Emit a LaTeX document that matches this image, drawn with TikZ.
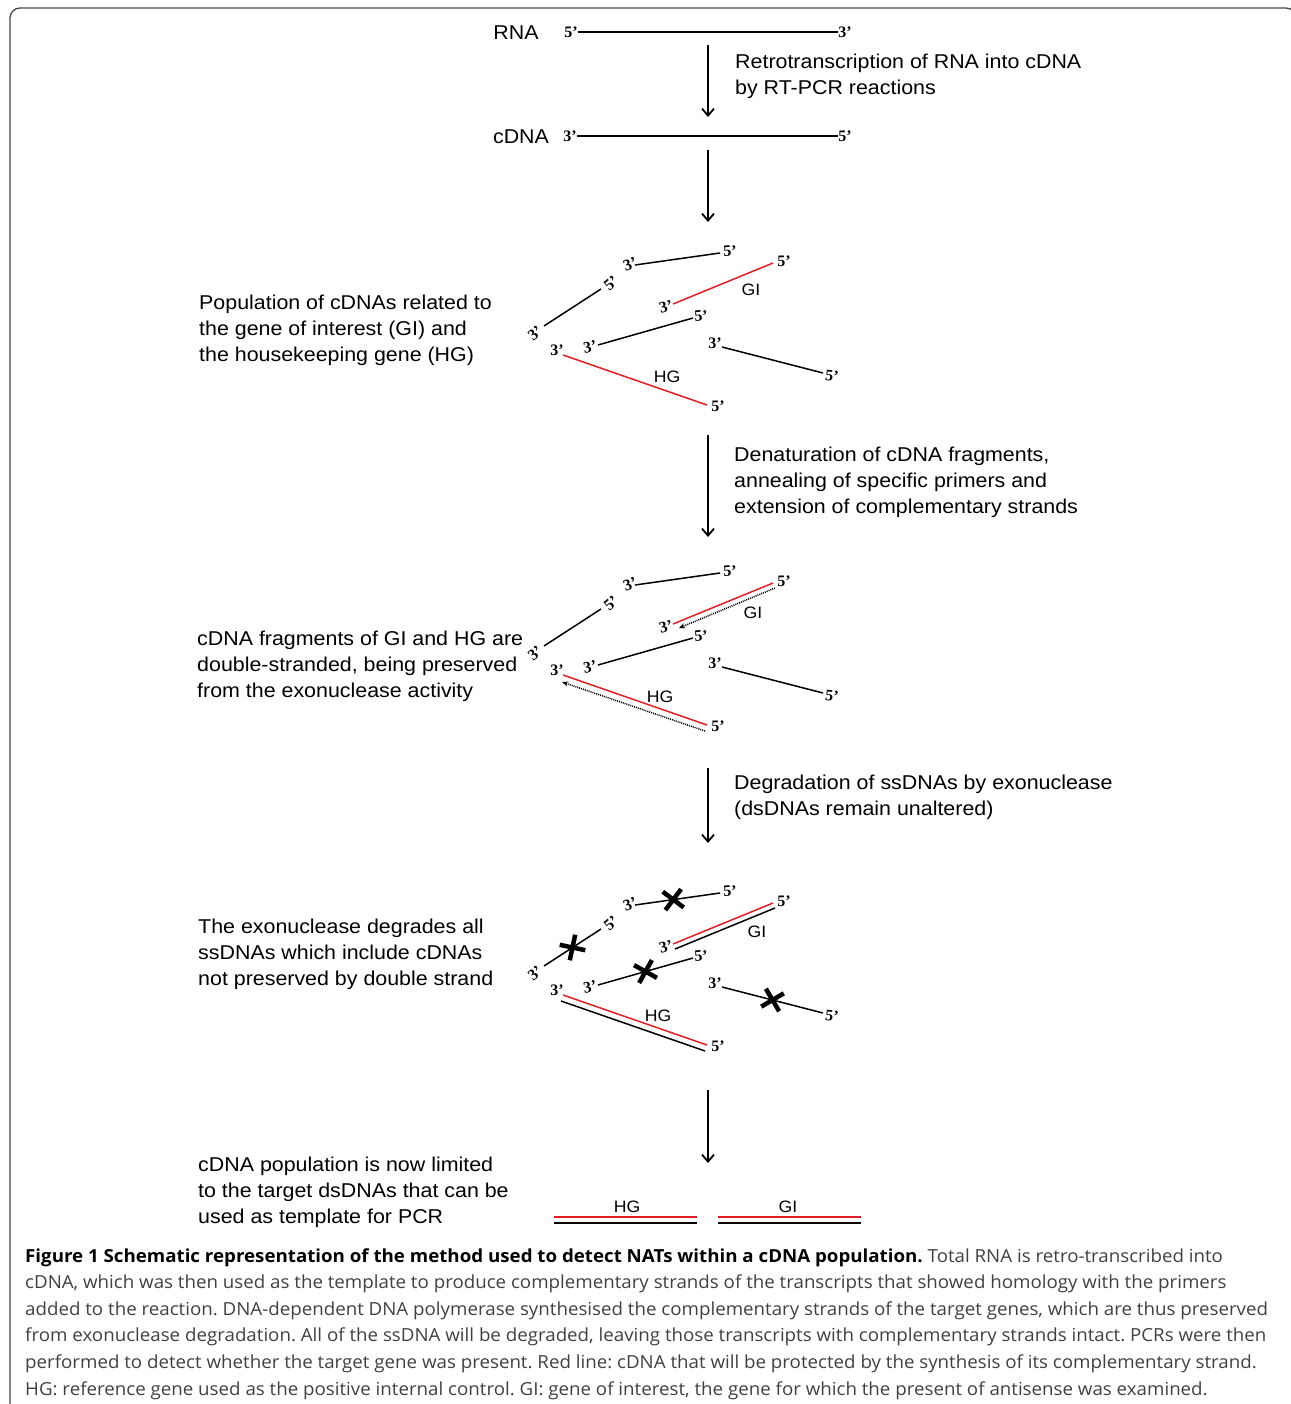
\documentclass[tikz,border=0pt]{standalone}
\usepackage{fontspec}
\setmainfont{Liberation Sans}
\newfontfamily\labfont{Liberation Sans}[FakeStretch=1.07]
\newfontfamily\primefont{Liberation Serif}
\newfontfamily\capfont{Open Sans}[FakeStretch=1.04]
\usetikzlibrary{arrows.meta,calc,shapes.misc}
\definecolor{dnared}{RGB}{226,30,36}
\definecolor{capgray}{RGB}{64,64,64}
\definecolor{framegray}{RGB}{70,70,70}
\frenchspacing

\newcommand\dnaset[2]{%
\begin{scope}[shift={(0,#1)}, name prefix=#2]
\coordinate (As) at (544,326); \coordinate (Ae) at (601,289);
\coordinate (Bs) at (635,265); \coordinate (Be) at (720,253);
\coordinate (Gs) at (673,304); \coordinate (Ge) at (773,263);
\coordinate (Cs) at (598,345); \coordinate (Ce) at (693,318);
\coordinate (Ds) at (722,347); \coordinate (De) at (823,373);
\coordinate (Hs) at (563,355); \coordinate (He) at (707,405);
\node[pr, rotate=40] (A3) at (535,333) {3’};
\node[pr, rotate=40] (A5) at (611,283) {5’};
\node[pr, rotate=20] (B3) at (630,264) {3’};
\node[pr, rotate=3]  (B5) at (730,251) {5’};
\node[pr, rotate=15] (G3) at (666,307) {3’};
\node[pr]            (G5) at (784,261) {5’};
\node[pr, rotate=10] (C3) at (590,347) {3’};
\node[pr, rotate=5]  (C5) at (701,316) {5’};
\node[pr]            (D3) at (715,343) {3’};
\node[pr, rotate=-5] (D5) at (832,376) {5’};
\node[pr]            (H3) at (557,350) {3’};
\node[pr]            (H5) at (718,406) {5’};
\draw[strand] (As) -- (Ae);
\draw[strand] (Bs) -- (Be);
\draw[strand] (Cs) -- (Ce);
\draw[strand] (Ds) -- (De);
\draw[rstrand] (Gs) -- (Ge);
\draw[rstrand] (Hs) -- (He);
\end{scope}}

\begin{document}
\begin{tikzpicture}[x=1pt,y=-1pt,
 lab/.style={font=\labfont\fontsize{20}{26}\selectfont, align=left, anchor=west, inner sep=0},
 pr/.style={font=\primefont\bfseries\fontsize{16}{16}\selectfont, inner sep=0},
 gn/.style={font=\labfont\fontsize{16.5}{16.5}\selectfont, inner sep=0},
 strand/.style={line width=1.5pt, black},
 rstrand/.style={line width=1.5pt, dnared},
 dotstrand/.style={line width=1.5pt, dash pattern=on 1pt off 1pt, -{Stealth[length=6pt,width=5pt]}},
 stepar/.style={line width=1.8pt, -{Straight Barb[length=7pt,width=12pt,line width=1.8pt]}},
 xmk/.style={draw, cross out, line width=4.5pt, minimum size=14pt, inner sep=0},
 capline/.style={font=\capfont\fontsize{18}{18}\selectfont, anchor=base west, inner sep=0, text=capgray},
]
\useasboundingbox (0,0) rectangle (1290,1404);
\draw[line width=1.3pt, framegray, rounded corners=10pt] (10,1420) |- (1296,8) -- (1296,40);

% --- RNA / cDNA ---
\node[lab, anchor=center] (rna) at (516,33) {RNA};
\node[pr] (r5) at (571,32) {5’};
\node[pr] (r3) at (845,32) {3’};
\draw[strand, line width=1.2pt] (r5.east) -- (r3.west);

\coordinate (a1s) at (708,45); \coordinate (a1e) at (708,117);
\draw[stepar] (a1s) -- (a1e);
\node[lab] (t1) at (735,76.5) {Retrotranscription of RNA into cDNA\\by RT-PCR reactions};

\node[lab, anchor=center] (cdna) at (521,137) {cDNA};
\node[pr] (c3) at (570,136) {3’};
\node[pr] (c5) at (845,136) {5’};
\draw[strand, line width=1.2pt] (c3.east) -- (c5.west);

\coordinate (a2s) at (708,150); \coordinate (a2e) at (708,222);
\draw[stepar] (a2s) -- (a2e);

% --- cluster 1 ---
\dnaset{0}{k1-}
\node[gn] (k1gi) at (751,290) {GI};
\node[gn] (k1hg) at (667,377) {HG};
\node[lab] (t2) at (199,330) {Population of cDNAs related to\\the gene of interest (GI) and\\the housekeeping gene (HG)};

\coordinate (a3s) at (708,435); \coordinate (a3e) at (708,537);
\draw[stepar] (a3s) -- (a3e);
\node[lab] (t3) at (734,482) {Denaturation of cDNA fragments,\\annealing of specific primers and\\extension of complementary strands};

% --- cluster 2 ---
\dnaset{320}{k2-}
\draw[dotstrand] ($(k2-Ge)+(2,5)$) -- ($(k2-Gs)+(6,4)$);
\draw[dotstrand] ($(k2-He)+(-2,6)$) -- ($(k2-Hs)+(-1,7)$);
\node[gn] (k2gi) at (753,613) {GI};
\node[gn] (k2hg) at (660,697) {HG};
\node[lab] (t4) at (197,666) {cDNA fragments of GI and HG are\\double-stranded, being preserved\\from the exonuclease activity};

\coordinate (a4s) at (708,768); \coordinate (a4e) at (708,843);
\draw[stepar] (a4s) -- (a4e);
\node[lab] (t5) at (734,797) {Degradation of ssDNAs by exonuclease\\(dsDNAs remain unaltered)};

% --- cluster 3 ---
\dnaset{640}{k3-}
\draw[strand] ($(k3-Gs)+(2,5)$) -- ($(k3-Ge)+(2,5)$);
\draw[strand] ($(k3-Hs)+(-2,6)$) -- ($(k3-He)+(-2,6)$);
\path (k3-As) -- (k3-Ae) node[xmk, pos=.5, sloped] (x1) {};
\path (k3-Bs) -- (k3-Be) node[xmk, pos=.45, sloped] (x2) {};
\path (k3-Cs) -- (k3-Ce) node[xmk, pos=.5, sloped] (x3) {};
\path (k3-Ds) -- (k3-De) node[xmk, pos=.5, sloped] (x4) {};
\node[gn] (k3gi) at (757,932) {GI};
\node[gn] (k3hg) at (658,1016) {HG};
\node[lab] (t6) at (198,954) {The exonuclease degrades all\\ssDNAs which include cDNAs\\not preserved by double strand};

\coordinate (a5s) at (708,1090); \coordinate (a5e) at (708,1163);
\draw[stepar] (a5s) -- (a5e);

% --- final dsDNAs ---
\coordinate (h1) at (554,1217); \coordinate (h2) at (697,1217);
\coordinate (h3) at (554,1223); \coordinate (h4) at (697,1223);
\coordinate (g1) at (718,1217); \coordinate (g2) at (861,1217);
\coordinate (g3) at (718,1223); \coordinate (g4) at (861,1223);
\draw[rstrand, line width=2pt] (h1) -- (h2);
\draw[strand, line width=2.6pt] (h3) -- (h4);
\draw[rstrand, line width=2pt] (g1) -- (g2);
\draw[strand, line width=2.6pt] (g3) -- (g4);
\node[gn] (fhg) at (627,1207) {HG};
\node[gn] (fgi) at (788,1207) {GI};
\node[lab] (t7) at (198,1192) {cDNA population is now limited\\to the target dsDNAs that can be\\used as template for PCR};

% --- caption ---
\node[capline] (cap1) at (25,1262) {\textcolor{black}{\bfseries Figure 1 Schematic representation of the method used to detect NATs within a cDNA population.} Total RNA is retro-transcribed into};
\node[capline] (cap2) at (25,1288.5) {cDNA, which was then used as the template to produce complementary strands of the transcripts that showed homology with the primers};
\node[capline] (cap3) at (25,1315) {added to the reaction. DNA-dependent DNA polymerase synthesised the complementary strands of the target genes, which are thus preserved};
\node[capline] (cap4) at (25,1341.5) {from exonuclease degradation. All of the ssDNA will be degraded, leaving those transcripts with complementary strands intact. PCRs were then};
\node[capline] (cap5) at (25,1368) {performed to detect whether the target gene was present. Red line: cDNA that will be protected by the synthesis of its complementary strand.};
\node[capline] (cap6) at (25,1395) {HG: reference gene used as the positive internal control. GI: gene of interest, the gene for which the present of antisense was examined.};
\end{tikzpicture}
\end{document}
